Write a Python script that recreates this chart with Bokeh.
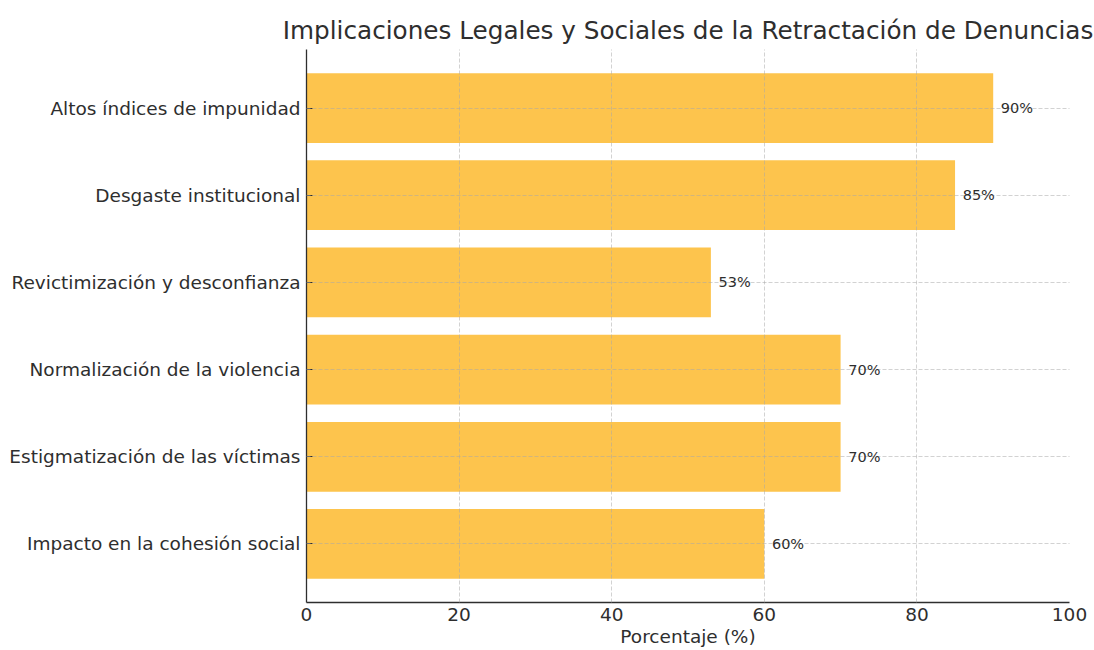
from bokeh.plotting import figure
from bokeh.models import ColumnDataSource, FactorRange, Range1d, FixedTicker, LabelSet
from bokeh.core.properties import value
from bokeh.embed import file_html
from bokeh.resources import INLINE

categories = [
    "Altos índices de impunidad",
    "Desgaste institucional",
    "Revictimización y desconfianza",
    "Normalización de la violencia",
    "Estigmatización de las víctimas",
    "Impacto en la cohesión social",
]
values = [90, 85, 53, 70, 70, 60]
value_labels = [f"{v}%" for v in values]
x_ticks = [0, 20, 40, 60, 80, 100]

FONT = "DejaVu Sans"
TEXT = "#2e2e2e"

src = ColumnDataSource(dict(cat=categories, val=values, lab=value_labels,
                            lx=[v + 1 for v in values]))

p = figure(width=1094, height=650, output_backend="svg", toolbar_location=None,
           y_range=FactorRange(factors=list(reversed(categories)), range_padding=0.057,
                               range_padding_units="percent"),
           x_range=Range1d(0, 100),
           title="Implicaciones Legales y Sociales de la Retractación de Denuncias",
           min_border_left=306, min_border_right=25, min_border_top=49, min_border_bottom=48)

p.hbar(y="cat", right="val", left=0, height=0.8, source=src,
       fill_color="#FDC44D", line_color=None)

labels = LabelSet(x="lx", y="cat", text="lab", source=src, text_font_size="14.5px",
                  text_color=TEXT, text_baseline="middle", text_align="left",
                  text_font=value(FONT))
p.add_layout(labels)

p.title.text_font = FONT
p.title.text_font_size = "24.7px"
p.title.text_font_style = "normal"
p.title.text_color = TEXT
p.title.align = "center"
p.title.offset = 0
p.title.standoff = 9

p.outline_line_color = None
for ax in (p.xaxis[0], p.yaxis[0]):
    ax.axis_line_color = TEXT
    ax.axis_line_width = 1.3
    ax.major_tick_line_color = TEXT
    ax.major_tick_out = 0
    ax.minor_tick_line_color = None
    ax.major_label_text_font = FONT
    ax.major_label_text_font_size = "18.5px"
    ax.major_label_text_color = TEXT

p.yaxis.major_tick_in = 6
p.yaxis.major_label_standoff = 6
p.xaxis.major_tick_in = 0
p.xaxis.major_label_standoff = 5

p.xaxis.ticker = FixedTicker(ticks=x_ticks)
p.xaxis.axis_label = "Porcentaje (%)"
p.xaxis.axis_label_text_font = FONT
p.xaxis.axis_label_text_font_size = "18.5px"
p.xaxis.axis_label_text_font_style = "normal"
p.xaxis.axis_label_text_color = TEXT
p.xaxis.axis_label_standoff = 2

for g in (p.xgrid[0], p.ygrid[0]):
    g.grid_line_color = "#a8a8a8"
    g.grid_line_alpha = 0.65
    g.grid_line_dash = "4 2"
    g.grid_line_width = 0.8
    g.level = "annotation"

open("out.html", "w").write(file_html(p, INLINE))
